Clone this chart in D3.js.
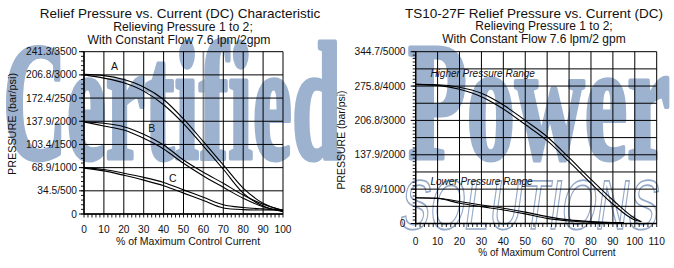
<!DOCTYPE html>
<html><head><meta charset="utf-8">
<script src="https://cdn.jsdelivr.net/npm/d3@7"></script>
<style>
html,body{margin:0;padding:0;background:#fff;}
svg{display:block;font-family:"Liberation Sans",Arial,sans-serif;}
</style></head>
<body>
<svg id="c" width="674" height="268"></svg>
<script>
// ---------- DATA ----------
// Left chart
const leftTitle = "Relief Pressure vs. Current (DC) Characteristic";
const leftSub1 = "Relieving Pressure 1 to 2;";
const leftSub2 = "With Constant Flow 7.6 lpm/2gpm";
const leftXTicks = [0,10,20,30,40,50,60,70,80,90,100];
const leftYTicks = [0,500,1000,1500,2000,2500,3000,3500];
const leftYLabels = ["0","34.5/500","68.9/1000","103.4/1500","137.9/2000","172.4/2500","206.8/3000","241.3/3500"];
const leftPct = [0,10,20,30,40,50,60,70,80,90,100];
const curveAUp = [3010,2985,2900,2740,2470,2050,1560,1060,560,230,70];
const curveADn = [3000,2930,2830,2650,2355,1950,1465,965,450,170,50];
const curveBUp = [1990,1956,1883,1718,1488,1165,900,662,410,209,80];
const curveBDn = [1985,1898,1811,1632,1402,1093,820,576,338,157,60];
const curveCUp = [1000,960,880,790,680,520,360,200,140,110,90];
const curveCDn = [990,930,835,730,610,450,290,130,95,85,80];
const curveLabels = ["A","B","C"];

// Right chart
const rightTitle = "TS10-27F Relief Pressure vs. Current (DC)";
const rightSub1 = "Relieving Pressure 1 to 2;";
const rightSub2 = "With Constant Flow 7.6 lpm/2 gpm";
const rightXTicks = [0,10,20,30,40,50,60,70,80,90,100,110];
const rightYTicks = [0,1000,2000,3000,4000,5000];
const rightYLabels = ["0","68.9/1000","137.9/2000","206.8/3000","275.8/4000","344.7/5000"];
const highPct = [0,10,20,30,40,50,60,70,80,90,100,103];
const highUp = [4050,4040,3964,3789,3449,3000,2526,1915,1286,684,151,50];
const highDn = [4050,4020,3906,3690,3332,2880,2410,1799,1170,567,102,50];
const lowPct = [0,10,20,30,40,50,60,70,80,90,95];
const lowUp = [750,735,640,540,445,330,200,105,55,30,25];
const lowDn = [750,730,590,490,395,280,150,75,38,25,22];
const rangeLabels = ["Higher Pressure Range","Lower Pressure Range"];

const xTitle = "% of Maximum Control Current";
const yTitle = "PRESSURE (bar/psi)";
const watermarkWords = ["Certified","Power","SOLUTIONS"];

// ---------- DRAW ----------
const svg = d3.select("#c");
const wm = "#9db2cf";

// watermark
const serif = "'Liberation Serif','Times New Roman',serif";
svg.append("text").attr("x",3).attr("y",158)
  .attr("font-family",serif).attr("font-weight","bold")
  .attr("font-size",168).attr("fill",wm).attr("stroke",wm).attr("stroke-width",5).attr("stroke-linejoin","round")
  .attr("textLength",338).attr("lengthAdjust","spacingAndGlyphs").text(watermarkWords[0]);
svg.append("text").attr("x",408).attr("y",158)
  .attr("font-family",serif).attr("font-weight","bold")
  .attr("font-size",168).attr("fill",wm).attr("stroke",wm).attr("stroke-width",5).attr("stroke-linejoin","round")
  .attr("textLength",262).attr("lengthAdjust","spacingAndGlyphs").text(watermarkWords[1]);
svg.append("text").attr("transform","translate(398,229) skewX(-8)")
  .attr("font-size",70).attr("fill","none")
  .attr("stroke","#94a8c8").attr("stroke-width",1.7)
  .attr("textLength",258).attr("lengthAdjust","spacingAndGlyphs").text(watermarkWords[2]);

function chart(cfg){
  const g = svg.append("g");
  const x = d3.scaleLinear().domain(cfg.xDomain).range(cfg.xRange);
  const y = d3.scaleLinear().domain(cfg.yDomain).range(cfg.yRange);
  // vertical grid
  g.selectAll(".vg").data(cfg.xTicks).join("line")
    .attr("x1",d=>x(d)).attr("x2",d=>x(d)).attr("y1",y(cfg.yDomain[0])).attr("y2",y(cfg.yDomain[1]))
    .attr("stroke",d=>d===cfg.grayX?"#8a8a8a":"#000").attr("stroke-width",d=>d===cfg.grayX?1.6:1);
  // horizontal grid
  g.selectAll(".hg").data(cfg.hGrid).join("line")
    .attr("x1",x(cfg.xDomain[0])).attr("x2",x(cfg.xDomain[1])).attr("y1",d=>y(d)).attr("y2",d=>y(d))
    .attr("stroke","#000").attr("stroke-width",1);
  // left axis minor ticks
  g.selectAll(".ym").data(d3.range(cfg.yDomain[0],cfg.yDomain[1]+1,100)).join("line")
    .attr("x1",x(cfg.xDomain[0])-3).attr("x2",x(cfg.xDomain[0])).attr("y1",d=>y(d)).attr("y2",d=>y(d))
    .attr("stroke","#000").attr("stroke-width",0.9);
  g.selectAll(".yM").data(cfg.yTicks).join("line")
    .attr("x1",x(cfg.xDomain[0])-5).attr("x2",x(cfg.xDomain[0])).attr("y1",d=>y(d)).attr("y2",d=>y(d))
    .attr("stroke","#000").attr("stroke-width",1);
  // bottom minor ticks
  g.selectAll(".xm").data(d3.range(cfg.xDomain[0],cfg.xDomain[1]+0.1,2)).join("line")
    .attr("x1",d=>x(d)).attr("x2",d=>x(d)).attr("y1",y(0)).attr("y2",y(0)+3.5)
    .attr("stroke","#000").attr("stroke-width",0.9);
  // axes borders (thicker)
  g.append("line").attr("x1",x(cfg.xDomain[0])).attr("x2",x(cfg.xDomain[0]))
    .attr("y1",y(cfg.yDomain[0])).attr("y2",y(cfg.yDomain[1])).attr("stroke","#000").attr("stroke-width",1.4);
  g.append("line").attr("x1",x(cfg.xDomain[0])).attr("x2",x(cfg.xDomain[1]))
    .attr("y1",y(0)).attr("y2",y(0)).attr("stroke","#000").attr("stroke-width",1.4);
  // y tick labels
  g.selectAll(".yl").data(cfg.yTicks).join("text")
    .attr("x",cfg.yLabelX).attr("y",(d)=>y(d)).attr("dy","0.35em").attr("text-anchor","end")
    .attr("font-size",cfg.tickFont).attr("fill","#111").text((d,i)=>cfg.yLabels[i]);
  // x tick labels
  g.selectAll(".xl").data(cfg.xTicks).join("text")
    .attr("x",d=>x(d)).attr("y",cfg.xLabelY).attr("dy","0.35em").attr("text-anchor","middle")
    .attr("font-size",cfg.tickFont).attr("fill","#111").text(d=>d);
  // axis titles
  g.append("text").attr("x",cfg.xTitlePos[0]).attr("y",cfg.xTitlePos[1]).attr("dy","0.35em")
    .attr("text-anchor","middle").attr("font-size",cfg.titleFont).attr("fill","#111").text(xTitle);
  g.append("text").attr("transform",`translate(${cfg.yTitlePos[0]},${cfg.yTitlePos[1]}) rotate(-90)`)
    .attr("dy","0.35em").attr("text-anchor","middle").attr("font-size",cfg.yTitleFont).attr("fill","#111").text(yTitle);
  // titles
  cfg.titles.forEach(t=>{
    g.append("text").attr("x",t.x).attr("y",t.y).attr("dy","0.35em").attr("text-anchor","middle")
      .attr("font-size",t.size).attr("fill","#111").text(t.text);
  });
  // curves
  const line = d3.line().x(d=>x(d[0])).y(d=>y(d[1])).curve(d3.curveMonotoneX);
  cfg.series.forEach(s=>{
    g.append("path").datum(s.xs.map((v,i)=>[v,s.ys[i]])).attr("d",line)
      .attr("fill","none").attr("stroke","#000").attr("stroke-width",1.1);
  });
  cfg.labels.forEach(l=>{
    g.append("text").attr("x",x(l.x)).attr("y",y(l.y)).attr("dy","0.35em").attr("text-anchor",l.anchor||"middle")
      .attr("font-size",l.size).attr("font-style",l.italic?"italic":"normal").attr("fill","#111").text(l.text);
  });
}

chart({
  xDomain:[0,100], xRange:[84,283], yDomain:[0,3500], yRange:[214,51.7],
  xTicks:leftXTicks, yTicks:leftYTicks, yLabels:leftYLabels, hGrid:leftYTicks, grayX:60,
  yLabelX:77, xLabelY:229, tickFont:10.2, titleFont:10.5, yTitleFont:10.8,
  xTitlePos:[188,241], yTitlePos:[12,124],
  titles:[{text:leftTitle,x:180,y:13,size:13.5},{text:leftSub1,x:183,y:27,size:12.2},{text:leftSub2,x:179,y:40,size:12.2}],
  series:[
    {xs:leftPct,ys:curveAUp},{xs:leftPct,ys:curveADn},
    {xs:leftPct,ys:curveBUp},{xs:leftPct,ys:curveBDn},
    {xs:leftPct,ys:curveCUp},{xs:leftPct,ys:curveCDn}],
  labels:[{text:curveLabels[0],x:15.3,y:3185,size:10.5},{text:curveLabels[1],x:34,y:1850,size:10.5},{text:curveLabels[2],x:44.6,y:770,size:10.5}]
});

chart({
  xDomain:[0,110], xRange:[415.7,656.7], yDomain:[0,5000], yRange:[223.5,51.7],
  xTicks:rightXTicks, yTicks:rightYTicks, yLabels:rightYLabels, hGrid:d3.range(0,5001,500), grayX:null,
  yLabelX:405.5, xLabelY:241.7, tickFont:10.2, titleFont:10, yTitleFont:10.5,
  xTitlePos:[547,252.7], yTitlePos:[341,140],
  titles:[{text:rightTitle,x:534,y:13,size:13.5},{text:rightSub1,x:544,y:26,size:12},{text:rightSub2,x:534,y:39,size:12}],
  series:[
    {xs:highPct,ys:highUp},{xs:highPct,ys:highDn},
    {xs:lowPct,ys:lowUp},{xs:lowPct,ys:lowDn}],
  labels:[{text:rangeLabels[0],x:6.7,y:4380,size:10,italic:true,anchor:"start"},
          {text:rangeLabels[1],x:6.7,y:1210,size:10,italic:true,anchor:"start"}]
});
</script>
</body></html>
